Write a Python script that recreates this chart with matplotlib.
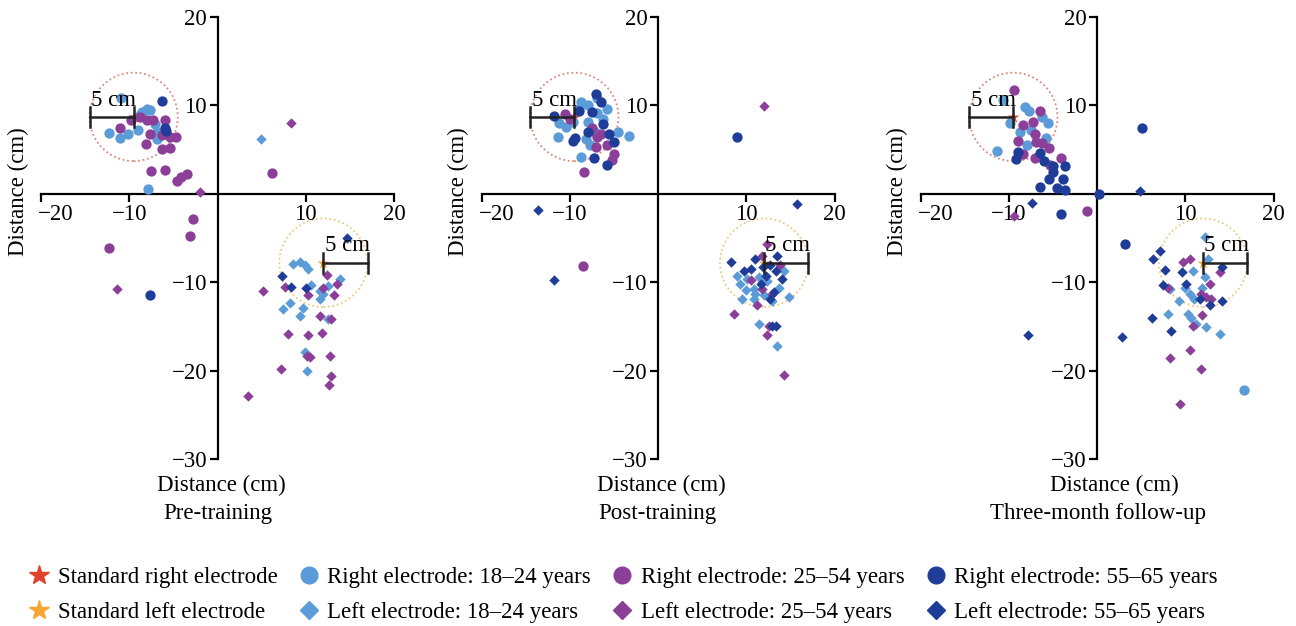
import matplotlib
matplotlib.use("Agg")
import matplotlib.pyplot as plt
import matplotlib.transforms as mtransforms
from matplotlib.lines import Line2D
from matplotlib.patches import Circle

plt.rcParams['font.family'] = ['Liberation Serif', 'DejaVu Serif']
plt.rcParams['font.size'] = 16.5

# standard electrode positions (cm)
std_right = (-9.5, 8.7)
std_left = (12.0, -7.8)

# ---- Pre-training ----
pre_r18 = [(-10.9, 10.8), (-12.3, 6.9), (-11.1, 6.3), (-10.1, 6.8), (-9.0, 7.2), (-8.5, 9.3),
           (-8.0, 9.6), (-7.6, 9.5), (-8.8, 8.9), (-7.1, 7.9), (-6.9, 7.0), (-6.8, 6.2), (-7.9, 0.5)]
pre_r25 = [(-9.8, 8.4), (-11.1, 7.5), (-8.8, 8.7), (-8.0, 8.3), (-7.3, 8.3), (-6.0, 8.4), (-7.7, 6.8),
           (-8.1, 5.6), (-6.3, 6.6), (-5.4, 6.4), (-4.7, 6.4), (-6.3, 5.1), (-5.4, 5.2), (-7.5, 2.6),
           (-6.0, 2.7), (-4.6, 1.5), (-4.1, 1.9), (-3.4, 2.2), (-2.8, -2.9), (-3.1, -4.8),
           (-12.3, -6.1), (6.2, 2.3)]
pre_r55 = [(-6.3, 10.5), (-6.0, 7.4), (-5.8, 7.1), (-7.7, -11.5)]
pre_l18 = [(4.9, 6.2), (8.6, -7.9), (9.3, -7.7), (9.9, -8.1), (10.3, -8.5), (10.6, -10.3), (12.5, -10.4),
           (13.9, -9.6), (11.6, -11.0), (11.6, -11.9), (12.0, -11.3), (8.2, -12.3), (7.4, -13.0),
           (9.7, -12.9), (9.3, -13.8), (12.5, -14.2), (9.9, -17.9), (10.1, -20.0)]
pre_l25 = [(-2.0, 0.2), (-11.4, -10.8), (8.3, 8.0), (12.4, -9.2), (13.5, -10.2), (7.6, -10.5),
           (5.2, -11.0), (10.3, -11.5), (12.0, -10.6), (13.2, -11.5), (11.6, -13.8), (12.9, -14.2),
           (8.0, -15.9), (10.3, -16.0), (11.8, -15.7), (10.1, -18.3), (10.5, -18.5), (12.7, -18.4),
           (7.2, -19.8), (12.9, -20.6), (12.6, -21.6), (3.5, -22.9)]
pre_l55 = [(14.7, -5.0), (7.3, -9.3), (8.3, -10.5), (10.0, -10.6)]

# ---- Post-training ----
post_r18 = [(-3.3, 6.5), (-11.3, 6.4), (-8.8, 4.2), (-8.8, 10.4), (-6.9, 10.8), (-5.8, 9.6), (-4.6, 7.0),
            (-7.9, 8.1), (-8.2, 6.2), (-6.9, 9.1), (-9.6, 8.1), (-11.2, 8.0), (-7.7, 5.5), (-6.2, 8.5),
            (-10.4, 7.6), (-7.2, 7.0), (-9.0, 9.6), (-8.0, 10.0)]
post_r25 = [(-8.4, 2.5), (-8.5, -8.2), (-5.0, 4.5), (-5.2, 3.8), (-6.9, 6.4), (-6.5, 6.8), (-7.1, 5.3),
            (-10.0, 8.5), (-5.8, 5.5), (-7.5, 7.4), (-10.6, 9.0)]
post_r55 = [(-11.8, 8.8), (-7.1, 11.3), (-9.7, 6.0), (-7.3, 4.0), (-5.8, 3.3), (-5.0, 5.9), (-6.2, 7.9),
            (-7.5, 9.3), (-9.0, 9.4), (-8.0, 7.0), (-5.6, 6.8), (-6.5, 10.4), (8.9, 6.4), (-9.4, 6.3)]
post_l18 = [(8.9, -9.3), (9.3, -10.2), (10.1, -9.6), (11.4, -9.4), (11.8, -10.0), (10.8, -10.8),
            (9.9, -10.9), (9.5, -11.9), (10.8, -11.9), (12.0, -11.5), (13.7, -10.6), (14.8, -11.7),
            (14.3, -8.7), (11.4, -14.7), (13.5, -17.2), (12.9, -12.1), (11.0, -11.3), (12.3, -9.9)]
post_l25 = [(12.0, 9.9), (12.3, -5.7), (11.8, -7.0), (13.8, -8.1), (10.5, -9.8), (11.8, -10.8),
            (11.2, -12.6), (8.6, -13.6), (12.5, -14.9), (12.3, -16.0), (14.2, -20.5), (12.9, -11.3)]
post_l55 = [(-13.6, -1.8), (-11.8, -9.8), (15.7, -1.1), (8.3, -7.7), (11.0, -7.4), (9.7, -8.7),
            (10.5, -8.5), (12.7, -8.1), (13.3, -8.7), (14.0, -9.6), (12.2, -9.3), (13.1, -11.1),
            (12.9, -14.9), (13.3, -14.9), (12.7, -11.9), (11.6, -10.2), (13.5, -7.0), (11.9, -8.3)]

# ---- Three-month follow-up ----
fu_r18 = [(-10.7, 10.6), (-11.3, 4.8), (-9.9, 8.0), (-8.2, 9.8), (-7.7, 9.4), (-6.2, 8.7), (-5.6, 8.0),
          (-5.8, 6.3), (-8.0, 5.5), (-8.8, 7.0), (-7.5, 7.2), (16.6, -22.2)]
fu_r25 = [(-9.4, 11.7), (-6.5, 9.4), (-8.4, 7.8), (-7.3, 8.1), (-7.0, 6.8), (-9.0, 6.0), (-6.9, 5.9),
          (-6.3, 5.8), (-5.5, 5.2), (-8.4, 4.5), (-7.0, 4.0), (-4.1, 4.0), (-5.4, 3.3), (-1.2, -1.9)]
fu_r55 = [(5.1, 7.5), (-9.0, 4.7), (-9.2, 3.9), (-6.5, 4.6), (-6.0, 3.7), (-5.0, 3.2), (-3.6, 3.2),
          (-5.0, 2.5), (-5.5, 1.7), (-3.9, 1.7), (-6.5, 0.8), (-4.6, 0.6), (-3.7, 0.4), (0.15, 0.0),
          (-4.1, -2.3), (3.1, -5.7)]
fu_l18 = [(12.2, -4.9), (12.5, -7.4), (10.8, -8.7), (12.2, -9.4), (9.9, -10.6), (10.5, -11.3),
          (11.0, -11.9), (11.9, -10.6), (8.2, -10.8), (9.3, -12.1), (10.3, -13.6), (10.6, -14.0),
          (8.0, -13.6), (12.3, -15.1), (13.9, -15.9), (11.2, -14.7)]
fu_l25 = [(-9.4, -2.5), (9.7, -7.7), (10.5, -7.4), (8.0, -10.6), (12.8, -10.2), (13.9, -8.9),
          (11.8, -11.3), (12.3, -11.7), (12.9, -11.9), (11.9, -13.7), (10.8, -14.9), (10.5, -17.7),
          (8.3, -18.6), (11.8, -19.8), (9.4, -23.8)]
fu_l55 = [(-7.8, -16.0), (2.8, -16.2), (4.8, 0.3), (-7.4, -1.0), (7.1, -6.5), (6.3, -7.4), (7.7, -8.6),
          (9.6, -8.9), (7.4, -10.3), (10.1, -10.2), (11.6, -11.9), (12.8, -12.6), (14.1, -8.3),
          (14.1, -12.1), (6.2, -14.1), (8.4, -15.5)]

titles = ['Pre-training', 'Post-training', 'Three-month follow-up']
labels = ['Right electrode: 18\u201324 years', 'Left electrode: 18\u201324 years',
          'Right electrode: 25\u201354 years', 'Left electrode: 25\u201354 years',
          'Right electrode: 55\u201365 years', 'Left electrode: 55\u201365 years']

c_light = '#5b9bd8'
c_purple = '#8c3f98'
c_dark = '#1f3d98'
c_red = '#e0432b'
c_orange = '#f7a532'

panels = [
    [pre_r18, pre_l18, pre_r25, pre_l25, pre_r55, pre_l55],
    [post_r18, post_l18, post_r25, post_l25, post_r55, post_l55],
    [fu_r18, fu_l18, fu_r25, fu_l25, fu_r55, fu_l55],
]
colors = [c_light, c_light, c_purple, c_purple, c_dark, c_dark]
markers = ['o', 'D', 'o', 'D', 'o', 'D']
sizes = [55, 28, 55, 28, 55, 28]

W, H = 1296, 626
fig = plt.figure(figsize=(W / 100, H / 100), dpi=100)

lefts = [41, 481.7, 920.7]
zero_px = [217.7, 657.7, 1097.7]
xlab_px = [221, 661, 1114]

for i in range(3):
    ax = fig.add_axes([lefts[i] / W, 1 - 459 / H, 353 / W, 442 / H])
    ax.set_xlim(-20, 20)
    ax.set_ylim(-30, 20)
    for s in ['top', 'right']:
        ax.spines[s].set_visible(False)
    ax.spines['left'].set_position(('data', 0))
    ax.spines['bottom'].set_position(('data', 0))
    ax.spines['left'].set_linewidth(1.6)
    ax.spines['bottom'].set_linewidth(1.6)
    ax.set_xticks([-20, -10, 10, 20])
    ax.set_yticks([-30, -20, -10, 10, 20])
    ax.tick_params(direction='out', length=5.5, width=1.6, pad=2, labelsize=16.5)
    ax.patch.set_alpha(0)
    # first x tick label starts at the tick instead of being centred on it
    first = ax.get_xticklabels()[0]
    first.set_horizontalalignment('left')
    first.set_transform(first.get_transform() +
                        mtransforms.ScaledTranslation(-3 / 100, 0, fig.dpi_scale_trans))

    # dotted circles around standard positions
    ax.add_patch(Circle(std_right, 5, fill=False, ls=(0, (1, 1.5)), lw=1.3, color='#d98a7c', zorder=1))
    ax.add_patch(Circle(std_left, 5, fill=False, ls=(0, (1, 1.5)), lw=1.3, color='#efc882', zorder=1))

    ax.scatter([std_right[0]], [std_right[1]], marker='*', s=80, color=c_red, zorder=2, linewidths=0)
    ax.scatter([std_left[0]], [std_left[1]], marker='*', s=80, color=c_orange, zorder=2, linewidths=0)

    for pts, col, mk, sz in zip(panels[i], colors, markers, sizes):
        xs = [p[0] for p in pts]
        ys = [p[1] for p in pts]
        ax.scatter(xs, ys, marker=mk, s=sz, color=col, linewidths=0, zorder=3, clip_on=False)

    # 5 cm scale bars
    for cx, cy, d in [(std_right[0], std_right[1], -5), (std_left[0], std_left[1], 5)]:
        ax.plot([cx, cx + d], [cy, cy], color='#222222', lw=1.8, zorder=5)
        for ex in [cx, cx + d]:
            ax.plot([ex, ex], [cy - 1.15, cy + 1.15], color='#222222', lw=1.8, zorder=5)
        ax.text(cx + d / 2 + 0.2, cy + 1.9, '5 cm', ha='center', va='center', fontsize=16.5, zorder=6)

    fig.text(xlab_px[i] / W, 1 - 485 / H, 'Distance (cm)', ha='center', va='center', fontsize=16.5)
    fig.text(zero_px[i] / W, 1 - 513 / H, titles[i], ha='center', va='center', fontsize=16.5)
    fig.text((lefts[i] - 23) / W, 1 - 192 / H, 'Distance (cm)', ha='center', va='center',
             rotation=90, fontsize=16.5)

handles = [
    Line2D([], [], ls='', marker='*', markersize=15, color=c_red),
    Line2D([], [], ls='', marker='*', markersize=15, color=c_orange),
]
for col, mk in zip(colors, markers):
    handles.append(Line2D([], [], ls='', marker=mk, markersize=12 if mk == 'o' else 9, color=col))
names = ['Standard right electrode', 'Standard left electrode'] + labels

fig.legend(handles, names, loc='center left', bbox_to_anchor=(29 / W, 1 - 595 / H), ncol=4,
           frameon=False, fontsize=16.5, handlelength=0.9, handletextpad=0.35, columnspacing=0.92,
           labelspacing=0.6, borderpad=0, borderaxespad=0)

fig.savefig('out.png', dpi=100)
